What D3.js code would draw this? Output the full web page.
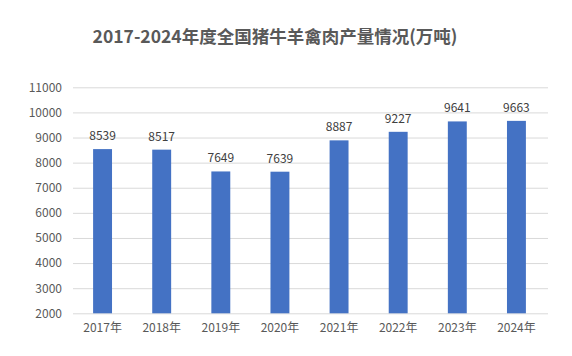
<!DOCTYPE html>
<html><head><meta charset="utf-8">
<script src="https://cdn.jsdelivr.net/npm/d3@7/dist/d3.min.js"></script>
<style>body{margin:0;background:#fff;}svg{display:block;}</style>
</head><body><svg id="c" width="572" height="356"></svg>
<script>
const categories = ["2017年","2018年","2019年","2020年","2021年","2022年","2023年","2024年"];
const values = [8539, 8517, 7649, 7639, 8887, 9227, 9641, 9663];
const yTicks = [2000,3000,4000,5000,6000,7000,8000,9000,10000,11000];
const title = "2017-2024年度全国猪牛羊禽肉产量情况(万吨)";

(function(){
const svg = d3.select("#c");
const font = "'Noto Sans CJK SC','Noto Sans',sans-serif";
const pLeft = 73, pRight = 546, pTop = 87.3, pBottom = 313.3;

const x = d3.scaleBand().domain(categories).range([pLeft, pRight]).paddingInner(0.68).paddingOuter(0.34);
const y = d3.scaleLinear().domain([2000, 11000]).range([pBottom, pTop]);

svg.append("text").attr("x", 275).attr("y", 43).attr("text-anchor", "middle")
  .attr("font-family", font).attr("font-weight", "bold").attr("font-size", 17.5)
  .attr("fill", "#595959").text(title);

const yAxis = svg.append("g").attr("transform", `translate(${pLeft},0)`)
  .call(d3.axisLeft(y).tickValues(yTicks).tickSize(-(pRight + 2 - pLeft)).tickPadding(11).tickFormat(d3.format("d")));
yAxis.select(".domain").remove();
yAxis.selectAll(".tick line").attr("stroke", "#d9d9d9").attr("stroke-width", 1);
yAxis.selectAll(".tick text").attr("font-family", font).attr("font-size", 12).attr("fill", "#595959");

const xAxis = svg.append("g").attr("transform", `translate(0,${pBottom})`)
  .call(d3.axisBottom(x).tickSize(0).tickPadding(10));
xAxis.select(".domain").remove();
xAxis.selectAll(".tick text").attr("font-family", font).attr("font-size", 12).attr("fill", "#595959");

svg.append("g").selectAll("rect").data(values).join("rect")
  .attr("x", (d, i) => x(categories[i])).attr("width", x.bandwidth())
  .attr("y", d => y(d)).attr("height", d => y(2000) - y(d))
  .attr("fill", "#4472c4");

svg.append("g").selectAll("text").data(values).join("text")
  .attr("x", (d, i) => x(categories[i]) + x.bandwidth() / 2)
  .attr("y", d => y(d) - 9)
  .attr("text-anchor", "middle").attr("font-family", font).attr("font-size", 12)
  .attr("fill", "#404040").text(d => d);
})();
</script></body></html>
